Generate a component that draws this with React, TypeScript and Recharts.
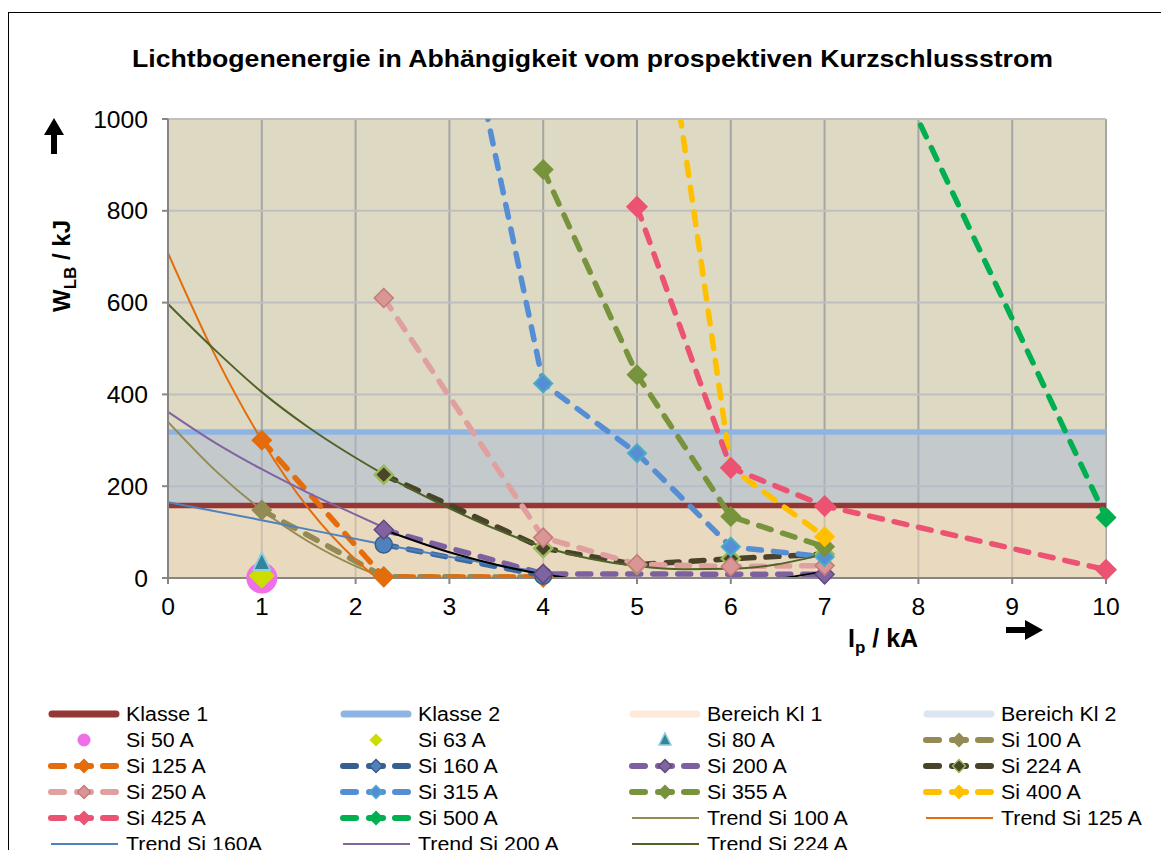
import React from 'react';
import { ComposedChart, Line, Area, XAxis, YAxis, CartesianGrid } from 'recharts';

const FONT = '"Liberation Sans", Arial, Helvetica, sans-serif';

// ---------- data ----------
const xTicks = [0, 1, 2, 3, 4, 5, 6, 7, 8, 9, 10];
const yTicks = [0, 200, 400, 600, 800, 1000];

const klasse1X = [0, 10];
const klasse1Y = [158, 158];
const klasse2X = [0, 10];
const klasse2Y = [318, 318];
const bereich1X = [0, 10];
const bereich1Lo = [0, 0];
const bereich1Hi = [158, 158];
const bereich2X = [0, 10];
const bereich2Lo = [158, 158];
const bereich2Hi = [318, 318];

const si50X = [1];
const si50Y = [0];
const si63X = [1];
const si63Y = [5];
const si80X = [1];
const si80Y = [34];
const si100X = [1, 2.3, 4];
const si100Y = [148, 3, 2];
const si125X = [1, 2.3, 4];
const si125Y = [300, 2, 2];
const si160X = [2.3, 4];
const si160Y = [73, 5];
const si200X = [2.3, 4, 7];
const si200Y = [105, 9, 8];
const si224X = [2.3, 4, 5, 6, 7];
const si224Y = [225, 65, 29, 42, 52];
const si250X = [2.3, 4, 5, 6, 7];
const si250Y = [610, 88, 30, 25, 27];
const si315X = [3, 4, 5, 6, 7];
const si315Y = [1400, 424, 272, 68, 46];
const si355X = [4, 5, 6, 7];
const si355Y = [890, 443, 134, 68];
const si400X = [5, 6, 7];
const si400Y = [1660, 240, 90];
const si425X = [5, 6, 7, 10];
const si425Y = [809, 240, 157, 18];
const si500X = [7, 10];
const si500Y = [1430, 132];

const trend100X = [0, 0.5, 1, 1.5, 2, 2.3, 2.6];
const trend100Y = [340, 235, 148, 79, 26, 2, -14];
const trend125X = [0, 0.5, 1, 1.5, 2, 2.2, 2.5];
const trend125Y = [708, 486, 300, 151, 40, 5, -35];
const trend160X = [0, 1, 2.3, 3, 4];
const trend160Y = [165, 126, 73, 46, 12];
const trend200X = [0, 0.5, 1, 1.5, 2, 2.3];
const trend200Y = [362, 295, 237, 185, 138, 110];
const trend224X = [0, 0.5, 1, 1.5, 2, 2.3, 3, 3.5, 4, 4.5, 5, 5.5, 6, 6.5, 7];
const trend224Y = [597, 497, 405, 328, 262, 226, 152, 106, 68, 42, 26, 19, 20, 30, 52];
const trendPolyX = [2.3, 3, 3.5, 4, 4.5, 5, 5.5, 6, 6.5, 7];
const trendPolyY = [105, 56, 29, 8, -6, -15, -17, -12, -2, 15];

type Pt = { x: number; y: number };
const toPts = (xs: number[], ys: number[]): Pt[] => xs.map((x, i) => ({ x, y: ys[i] }));
const inPlot = (p: Pt[]) => p.filter((q) => q.y >= 0 && q.y <= 1000);

// ---------- markers ----------
const diamondPath = (cx: number, cy: number, r: number) =>
  `M${cx},${cy - r}L${cx + r},${cy}L${cx},${cy + r}L${cx - r},${cy}Z`;

function diamondDot(fill: string, stroke: string, r = 9.5, sw = 1.5) {
  return (props: any) => {
    const { cx, cy, index } = props;
    if (cx == null || cy == null || isNaN(cx) || isNaN(cy)) return <g key={`e${index}`} />;
    return <path key={`d${index}`} d={diamondPath(cx, cy, r)} fill={fill} stroke={stroke} strokeWidth={sw} />;
  };
}
function circleDot(fill: string, stroke: string, r: number, sw = 1.5) {
  return (props: any) => {
    const { cx, cy, index } = props;
    if (cx == null || cy == null || isNaN(cx) || isNaN(cy)) return <g key={`e${index}`} />;
    return <circle key={`c${index}`} cx={cx} cy={cy} r={r} fill={fill} stroke={stroke} strokeWidth={sw} />;
  };
}
function triangleDot(fill: string, stroke: string) {
  return (props: any) => {
    const { cx, cy, index } = props;
    if (cx == null || cy == null || isNaN(cx) || isNaN(cy)) return <g key={`e${index}`} />;
    return (
      <path
        key={`t${index}`}
        d={`M${cx},${cy - 10}L${cx + 8.5},${cy + 7.5}L${cx - 8.5},${cy + 7.5}Z`}
        fill={fill}
        stroke={stroke}
        strokeWidth={2}
        strokeLinejoin="round"
      />
    );
  };
}

type Series = {
  name: string;
  xs: number[];
  ys: number[];
  line: string;
  dot: (p: any) => React.ReactElement;
};

const dashed: Series[] = [
  { name: 'Si 100 A', xs: si100X, ys: si100Y, line: '#948A54', dot: diamondDot('#948A54', '#948A54') },
  { name: 'Si 125 A', xs: si125X, ys: si125Y, line: '#E46C0A', dot: diamondDot('#E46C0A', '#E46C0A') },
  { name: 'Si 160 A', xs: si160X, ys: si160Y, line: '#3C6AA3', dot: circleDot('#4F81BD', '#385D8A', 8.5) },
  { name: 'Si 200 A', xs: si200X, ys: si200Y, line: '#7D60A0', dot: diamondDot('#8064A2', '#604A7B') },
  { name: 'Si 224 A', xs: si224X, ys: si224Y, line: '#48432A', dot: diamondDot('#4A452A', '#9BBB59', 9, 2.5) },
  { name: 'Si 250 A', xs: si250X, ys: si250Y, line: '#E0A0A0', dot: diamondDot('#D99694', '#C47A7A') },
  { name: 'Si 315 A', xs: si315X, ys: si315Y, line: '#558ED5', dot: diamondDot('#558ED5', '#4BACC6', 9, 2) },
  { name: 'Si 355 A', xs: si355X, ys: si355Y, line: '#77933C', dot: diamondDot('#77933C', '#77933C') },
  { name: 'Si 400 A', xs: si400X, ys: si400Y, line: '#FFC000', dot: diamondDot('#FFC000', '#FFC000') },
  { name: 'Si 425 A', xs: si425X, ys: si425Y, line: '#EC5373', dot: diamondDot('#EC5373', '#EC5373', 10) },
  { name: 'Si 500 A', xs: si500X, ys: si500Y, line: '#00B050', dot: diamondDot('#00B050', '#00B050') },
];

const trends = [
  { name: 'Trend Si 100 A', xs: trend100X, ys: trend100Y, line: '#948A54' },
  { name: 'Trend Si 125 A', xs: trend125X, ys: trend125Y, line: '#E46C0A' },
  { name: 'Trend Si 160A', xs: trend160X, ys: trend160Y, line: '#4F81BD' },
  { name: 'Trend Si 200 A', xs: trend200X, ys: trend200Y, line: '#8064A2' },
  { name: 'Trend Si 224 A', xs: trend224X, ys: trend224Y, line: '#4F6228' },
  { name: 'Trend Poly', xs: trendPolyX, ys: trendPolyY, line: '#000000' },
];

// ---------- ticks ----------
const YTick = (props: any) => {
  const { y, payload } = props;
  return (
    <g transform={`translate(140,${y + 8.5}) scale(1.05,1)`}>
      <text textAnchor="end" fontSize={23.5} fontFamily={FONT} fill="#000">
        {payload.value}
      </text>
    </g>
  );
};
const XTick = (props: any) => {
  const { x, payload } = props;
  return (
    <g transform={`translate(${x},607) scale(1.05,1)`}>
      <text textAnchor="middle" fontSize={23.5} fontFamily={FONT} fill="#000">
        {payload.value}
      </text>
    </g>
  );
};

// ---------- legend ----------
type LegendItem = {
  label: string;
  kind: 'thick' | 'circle' | 'diamond' | 'triangle' | 'dash' | 'thin';
  color: string;
  mfill?: string;
  mstroke?: string;
};
const legendItems: LegendItem[] = [
  { label: 'Klasse 1', kind: 'thick', color: '#953735' },
  { label: 'Klasse 2', kind: 'thick', color: '#8EB4E3' },
  { label: 'Bereich Kl 1', kind: 'thick', color: '#FDEADA' },
  { label: 'Bereich Kl 2', kind: 'thick', color: '#DCE6F2' },
  { label: 'Si 50 A', kind: 'circle', color: '#EE6FE6' },
  { label: 'Si 63 A', kind: 'diamond', color: '#CCDD00' },
  { label: 'Si 80 A', kind: 'triangle', color: '#31859C', mstroke: '#93CDDD' },
  { label: 'Si 100 A', kind: 'dash', color: '#948A54', mfill: '#948A54', mstroke: '#948A54' },
  { label: 'Si 125 A', kind: 'dash', color: '#E46C0A', mfill: '#E46C0A', mstroke: '#E46C0A' },
  { label: 'Si 160 A', kind: 'dash', color: '#376092', mfill: '#4F81BD', mstroke: '#385D8A' },
  { label: 'Si 200 A', kind: 'dash', color: '#7D60A0', mfill: '#8064A2', mstroke: '#604A7B' },
  { label: 'Si 224 A', kind: 'dash', color: '#48432A', mfill: '#4A452A', mstroke: '#9BBB59' },
  { label: 'Si 250 A', kind: 'dash', color: '#E0A0A0', mfill: '#D99694', mstroke: '#C47A7A' },
  { label: 'Si 315 A', kind: 'dash', color: '#558ED5', mfill: '#558ED5', mstroke: '#4BACC6' },
  { label: 'Si 355 A', kind: 'dash', color: '#77933C', mfill: '#77933C', mstroke: '#77933C' },
  { label: 'Si 400 A', kind: 'dash', color: '#FFC000', mfill: '#FFC000', mstroke: '#FFC000' },
  { label: 'Si 425 A', kind: 'dash', color: '#EC5373', mfill: '#EC5373', mstroke: '#EC5373' },
  { label: 'Si 500 A', kind: 'dash', color: '#00B050', mfill: '#00B050', mstroke: '#00B050' },
  { label: 'Trend Si 100 A', kind: 'thin', color: '#948A54' },
  { label: 'Trend Si 125 A', kind: 'thin', color: '#E46C0A' },
  { label: 'Trend Si 160A', kind: 'thin', color: '#4F81BD' },
  { label: 'Trend Si 200 A', kind: 'thin', color: '#8064A2' },
  { label: 'Trend Si 224 A', kind: 'thin', color: '#4F6228' },
];
const LEG_COLS = [40, 332, 621, 915];
const LEG_ROW0 = 706;
const LEG_ROWH = 26;

function LegendEntry({ item, col, row }: { item: LegendItem; col: number; row: number }) {
  const x0 = LEG_COLS[col];
  const cy = LEG_ROW0 + row * LEG_ROWH;
  const c = x0 + 36;
  let icon: React.ReactNode = null;
  if (item.kind === 'thick') {
    icon = <line x1={x0 + 4} x2={x0 + 68} y1={cy} y2={cy} stroke={item.color} strokeWidth={7} strokeLinecap="round" />;
  } else if (item.kind === 'thin') {
    icon = <line x1={x0 + 3} x2={x0 + 70} y1={cy} y2={cy} stroke={item.color} strokeWidth={2} />;
  } else if (item.kind === 'circle') {
    icon = <circle cx={c} cy={cy} r={6.5} fill={item.color} />;
  } else if (item.kind === 'diamond') {
    icon = <path d={diamondPath(c, cy, 6.5)} fill={item.color} />;
  } else if (item.kind === 'triangle') {
    icon = (
      <path d={`M${c},${cy - 7}L${c + 6},${cy + 5}L${c - 6},${cy + 5}Z`} fill={item.color} stroke={item.mstroke} strokeWidth={1.5} />
    );
  } else if (item.kind === 'dash') {
    icon = (
      <g>
        <line x1={x0 + 3} x2={x0 + 16} y1={cy} y2={cy} stroke={item.color} strokeWidth={6} strokeLinecap="round" />
        <line x1={x0 + 29} x2={x0 + 43} y1={cy} y2={cy} stroke={item.color} strokeWidth={6} strokeLinecap="round" />
        <line x1={x0 + 55} x2={x0 + 68} y1={cy} y2={cy} stroke={item.color} strokeWidth={6} strokeLinecap="round" />
        <path d={diamondPath(c, cy, 6.5)} fill={item.mfill} stroke={item.mstroke} strokeWidth={1.5} />
      </g>
    );
  }
  return (
    <g>
      {icon}
      <g transform={`translate(${x0 + 78},${cy + 7}) scale(1.07,1)`}>
        <text fontSize={20} fontFamily={FONT} fill="#000">
          {item.label}
        </text>
      </g>
    </g>
  );
}

export default function App() {
  const k1 = toPts(klasse1X, klasse1Y);
  const k2 = toPts(klasse2X, klasse2Y);
  const b1 = bereich1X.map((x, i) => ({ x, r: [bereich1Lo[i], bereich1Hi[i]] }));
  const b2 = bereich2X.map((x, i) => ({ x, r: [bereich2Lo[i], bereich2Hi[i]] }));

  return (
    <div style={{ position: 'relative', width: 1161, height: 842, overflow: 'hidden', fontFamily: FONT, background: '#fff' }}>
      <div
        style={{
          position: 'absolute',
          left: 0,
          top: 4,
          width: 1400,
          height: 1200,
          border: '1.5px solid #000',
          boxSizing: 'border-box',
        }}
      />
      <div style={{ position: 'absolute', left: 0, top: 0 }}>
        <ComposedChart width={1161} height={842} margin={{ top: 111, right: 63, left: 100, bottom: 232 }}>
          <CartesianGrid yAxisId="c" horizontal={false} vertical stroke="#A6A6A6" strokeWidth={2} fill="#DDD9C3" />
          <CartesianGrid yAxisId="c" horizontal vertical={false} stroke="#BFBFBF" strokeWidth={2} />
          <XAxis
            dataKey="x"
            type="number"
            domain={[0, 10]}
            ticks={xTicks}
            height={40}
            tick={XTick}
            tickSize={6}
            axisLine={{ stroke: '#868686', strokeWidth: 2 }}
            tickLine={{ stroke: '#868686', strokeWidth: 2 }}
          />
          <YAxis
            yAxisId="c"
            dataKey="y"
            type="number"
            domain={[0, 1000]}
            ticks={yTicks}
            allowDataOverflow
            width={60}
            tick={YTick}
            tickSize={6}
            axisLine={{ stroke: '#868686', strokeWidth: 2 }}
            tickLine={{ stroke: '#868686', strokeWidth: 2 }}
          />
          <YAxis yAxisId="f" dataKey="y" type="number" domain={[0, 1000]} hide />

          <Area
            yAxisId="c"
            data={b1}
            dataKey="r"
            type="linear"
            stroke="none"
            fill="#F5D9B9"
            fillOpacity={0.5}
            isAnimationActive={false}
            dot={false}
            activeDot={false}
          />
          <Area
            yAxisId="c"
            data={b2}
            dataKey="r"
            type="linear"
            stroke="none"
            fill="#ABBBD3"
            fillOpacity={0.5}
            isAnimationActive={false}
            dot={false}
            activeDot={false}
          />

          <Line yAxisId="c" data={k1} dataKey="y" stroke="#953735" strokeWidth={5.5} dot={false} activeDot={false} isAnimationActive={false} />
          <Line yAxisId="c" data={k2} dataKey="y" stroke="#8EB4E3" strokeWidth={5.5} dot={false} activeDot={false} isAnimationActive={false} />

          <Line yAxisId="f" data={toPts(si50X, si50Y)} dataKey="y" stroke="none" dot={circleDot('#EE6FE6', '#EE6FE6', 15.5, 0)} activeDot={false} isAnimationActive={false} />
          <Line yAxisId="f" data={toPts(si63X, si63Y)} dataKey="y" stroke="none" dot={diamondDot('#CCDD00', '#CCDD00', 12)} activeDot={false} isAnimationActive={false} />
          <Line yAxisId="f" data={toPts(si80X, si80Y)} dataKey="y" stroke="none" dot={triangleDot('#31859C', '#93CDDD')} activeDot={false} isAnimationActive={false} />

          {dashed.flatMap((s) => [
            <Line
              key={s.name + '-l'}
              yAxisId="c"
              data={toPts(s.xs, s.ys)}
              dataKey="y"
              type="linear"
              stroke={s.line}
              strokeWidth={5.5}
              strokeDasharray="13 12"
              strokeLinecap="round"
              dot={false}
              activeDot={false}
              isAnimationActive={false}
            />,
            <Line
              key={s.name + '-m'}
              yAxisId="f"
              data={inPlot(toPts(s.xs, s.ys))}
              dataKey="y"
              stroke="none"
              dot={s.dot}
              activeDot={false}
              isAnimationActive={false}
            />,
          ])}

          {trends.map((t) => (
            <Line
              key={t.name}
              yAxisId="c"
              data={toPts(t.xs, t.ys)}
              dataKey="y"
              type="monotone"
              stroke={t.line}
              strokeWidth={2}
              dot={false}
              activeDot={false}
              isAnimationActive={false}
            />
          ))}
        </ComposedChart>
      </div>

      <svg width={1161} height={842} style={{ position: 'absolute', left: 0, top: 0, pointerEvents: 'none' }}>
        <text x={124} y={58.5} fontSize={24} fontWeight="bold" fontFamily={FONT} fill="#000" textLength={921} lengthAdjust="spacingAndGlyphs">
          Lichtbogenenergie in Abhängigkeit vom prospektiven Kurzschlussstrom
        </text>

        <g transform="translate(62,258) rotate(-90)">
          <text textAnchor="middle" fontSize={24} fontWeight="bold" fontFamily={FONT} fill="#000">
            W
            <tspan fontSize={17} dy={6}>
              LB
            </tspan>
            <tspan dy={-6}> / kJ</tspan>
          </text>
        </g>

        <text x={840} y={638.5} fontSize={25} fontWeight="bold" fontFamily={FONT} fill="#000">
          I
          <tspan fontSize={17} dy={6}>
            p
          </tspan>
          <tspan dy={-6}> / kA</tspan>
        </text>

        <path d="M46,110 L56,127 L49,127 L49,146 L43,146 L43,127 L36,127 Z" fill="#000" />
        <path d="M1035,622 L1017,612 L1017,619 L998,619 L998,625 L1017,625 L1017,632 Z" fill="#000" />

        {legendItems.map((it, i) => (
          <LegendEntry key={it.label} item={it} col={i % 4} row={Math.floor(i / 4)} />
        ))}
      </svg>
    </div>
  );
}
